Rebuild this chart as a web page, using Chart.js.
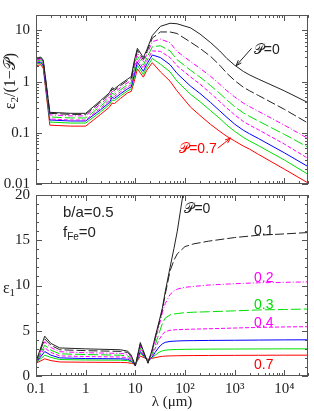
<!DOCTYPE html>
<html>
<head>
<meta charset="utf-8">
<script src="https://cdn.jsdelivr.net/npm/chart.js@4/dist/chart.umd.min.js"></script>
<style>
  html, body { margin: 0; padding: 0; background: #fff; overflow: hidden; }
  #wrap { position: relative; width: 314px; height: 411px; }
  canvas { position: absolute; left: 0; top: 0; }
</style>
</head>
<body>
<div id="wrap">
  <canvas id="topPanel" width="314" height="411"></canvas>
  <canvas id="botPanel" width="314" height="411"></canvas>
</div>
<script>
// porosity values, one curve each
const porosity = ['0', '0.1', '0.2', '0.3', '0.4', '0.5', '0.6', '0.7'];

// upper panel: eps2/(1-P) against wavelength (micron)
const lamTop = [0.1, 0.125, 0.14, 0.19, 0.5, 1, 2, 3, 3.4, 3.8, 5, 7, 8.3, 9.5, 11, 14.5, 17, 22, 32, 50, 69, 130, 200, 330, 500, 700, 1000, 1500, 2000, 3000, 10000, 30000];
const e2P0 = [2.88, 3.02, 2.63, 0.251, 0.240, 0.240, 0.427, 0.603, 0.759, 0.724, 0.891, 1.12, 1.26, 2.51, 4.47, 2.95, 4.17, 7.94, 12.0, 13.8, 13.5, 11.2, 8.51, 5.75, 3.98, 2.82, 2.09, 1.58, 1.35, 1.12, 0.661, 0.389];
const e2P1 = [2.75, 2.88, 2.51, 0.240, 0.229, 0.229, 0.398, 0.562, 0.708, 0.676, 0.832, 1.05, 1.15, 2.29, 4.07, 2.69, 3.80, 7.08, 9.33, 9.33, 8.71, 5.89, 4.47, 3.09, 2.09, 1.45, 1.05, 0.776, 0.661, 0.537, 0.288, 0.155];
const e2P2 = [2.63, 2.75, 2.40, 0.224, 0.214, 0.214, 0.363, 0.513, 0.646, 0.617, 0.759, 0.955, 1.05, 2.04, 3.63, 2.40, 3.39, 6.03, 6.76, 5.75, 3.89, 2.46, 1.82, 1.26, 0.891, 0.661, 0.501, 0.380, 0.324, 0.263, 0.141, 0.0776];
const e2P3 = [2.51, 2.63, 2.29, 0.204, 0.195, 0.195, 0.331, 0.468, 0.589, 0.562, 0.692, 0.871, 0.955, 1.78, 3.16, 2.09, 2.88, 4.79, 5.01, 3.98, 2.69, 1.66, 1.23, 0.832, 0.589, 0.437, 0.324, 0.245, 0.209, 0.170, 0.0933, 0.0525];
const e2P4 = [2.40, 2.51, 2.19, 0.186, 0.178, 0.178, 0.302, 0.427, 0.537, 0.513, 0.631, 0.794, 0.871, 1.55, 2.75, 1.82, 2.51, 3.98, 3.89, 2.95, 2.04, 1.23, 0.891, 0.589, 0.407, 0.302, 0.224, 0.166, 0.141, 0.115, 0.0603, 0.0316];
const e2P5 = [2.29, 2.40, 2.09, 0.178, 0.170, 0.170, 0.282, 0.389, 0.490, 0.468, 0.575, 0.724, 0.794, 1.35, 2.40, 1.59, 2.19, 3.31, 2.95, 2.14, 1.45, 0.813, 0.589, 0.389, 0.269, 0.200, 0.148, 0.112, 0.0955, 0.0776, 0.0407, 0.0219];
const e2P6 = [2.19, 2.29, 2.00, 0.162, 0.155, 0.155, 0.257, 0.355, 0.437, 0.427, 0.525, 0.661, 0.724, 1.18, 2.09, 1.38, 1.91, 2.82, 2.19, 1.55, 1.02, 0.562, 0.407, 0.269, 0.191, 0.141, 0.107, 0.0813, 0.0692, 0.0562, 0.0295, 0.0155];
const e2P7 = [2.04, 2.14, 1.82, 0.141, 0.135, 0.135, 0.229, 0.316, 0.380, 0.372, 0.468, 0.603, 0.646, 1.00, 1.78, 1.22, 1.66, 2.34, 1.55, 1.02, 0.661, 0.316, 0.219, 0.145, 0.107, 0.0851, 0.0692, 0.0550, 0.0479, 0.0380, 0.0195, 0.0105];

// lower panel: eps1 against wavelength (micron), P=0 runs off the top
const lamBot = [0.1, 0.15, 0.2, 0.3, 1, 5, 7, 8.3, 10, 12.6, 18, 22, 25, 30, 35, 40, 50, 60, 70, 100, 150, 300, 1000, 3000, 10000, 30000];
const e1P0 = [1.6, 4.4, 3.6, 3.1, 3.0, 2.9, 2.75, 2.3, 1.1, 3.7, 1.4, 3.0, 4.3, 6.0, 7.5, 9.3, 12.0, 14.1, 16.0, 21.5, null, null, null, null, null, null];
const e1P1 = [1.58, 4.1, 3.4, 2.9, 2.8, 2.72, 2.6, 2.2, 1.12, 3.5, 1.45, 2.9, 4.1, 5.8, 7.3, 9.0, 11.6, 12.8, 13.5, 14.3, 14.6, 14.9, 15.3, 15.55, 15.7, 15.85];
const e1P2 = [1.55, 3.8, 3.15, 2.68, 2.57, 2.5, 2.4, 2.05, 1.15, 3.3, 1.5, 2.8, 3.9, 5.5, 7.0, 8.0, 9.0, 9.4, 9.6, 9.8, 9.9, 10.05, 10.2, 10.3, 10.35, 10.4];
const e1P3 = [1.52, 3.4, 2.85, 2.45, 2.37, 2.3, 2.22, 1.9, 1.18, 3.1, 1.55, 2.5, 3.4, 4.7, 5.8, 6.4, 6.75, 6.85, 6.9, 7.0, 7.05, 7.1, 7.2, 7.3, 7.35, 7.4];
const e1P4 = [1.5, 3.1, 2.6, 2.22, 2.15, 2.1, 2.03, 1.8, 1.2, 2.9, 1.6, 2.3, 3.0, 4.0, 4.6, 4.9, 5.05, 5.1, 5.12, 5.15, 5.18, 5.22, 5.3, 5.37, 5.42, 5.45];
const e1P5 = [1.47, 2.7, 2.3, 2.0, 1.93, 1.9, 1.85, 1.65, 1.22, 2.7, 1.65, 2.1, 2.6, 3.2, 3.55, 3.72, 3.82, 3.85, 3.87, 3.9, 3.91, 3.93, 3.95, 3.97, 3.99, 4.0];
const e1P6 = [1.44, 2.3, 2.05, 1.82, 1.77, 1.75, 1.7, 1.55, 1.25, 2.5, 1.75, 2.0, 2.3, 2.62, 2.78, 2.85, 2.9, 2.92, 2.93, 2.95, 2.96, 2.97, 2.98, 2.99, 3.0, 3.0];
const e1P7 = [1.4, 1.9, 1.7, 1.55, 1.52, 1.5, 1.47, 1.4, 1.3, 2.2, 1.85, 1.95, 2.03, 2.12, 2.17, 2.2, 2.22, 2.23, 2.24, 2.25, 2.26, 2.27, 2.28, 2.29, 2.3, 2.3];

// tick labels
const topYTicks = ['0.01', '0.1', '1', '10'];
const botYTicks = ['0', '5', '10', '15', '20'];
const xTicks = ['0.1', '1', '10', '10²', '10³', '10⁴'];

const lineColors = ['#222', '#222', '#ff00ff', '#00e000', '#ff00ff', '#0000ff', '#00e000', '#ff0000'];
const lineDashes = [[], [9, 3], [5, 2, 1, 2], [10, 3], [4, 2], [], [], []];

const serif = "'Liberation Serif', 'DejaVu Serif', serif";
const sans = "'Liberation Sans', 'DejaVu Sans', sans-serif";

const makeSets = (lam, series) => series.map((vals, i) => ({
  label: 'P=' + porosity[i],
  data: lam.map((x, j) => ({x: x, y: vals[j]})).filter((p) => p.y !== null),
  borderColor: lineColors[i],
  borderDash: lineDashes[i],
  borderWidth: 1,
  pointRadius: 0,
  fill: false,
  tension: 0
}));

// label only the decades
const decadeIndex = (v) => {
  const e = Math.log10(v);
  return Math.abs(e - Math.round(e)) < 1e-6 ? Math.round(e) : null;
};

// box plus inward tick marks on all four sides
const frameTicks = {
  id: 'frameTicks',
  afterDatasetsDraw(chart) {
    const {ctx, chartArea: a, scales: {x, y}} = chart;
    ctx.save();
    ctx.strokeStyle = '#555';
    ctx.lineWidth = 1;
    ctx.strokeRect(a.left + 0.5, a.top + 0.5, a.right - a.left - 1, a.bottom - a.top - 1);
    ctx.beginPath();
    for (let d = -2; d <= 4; d++) {
      for (let m = 1; m <= 9; m++) {
        const v = m * Math.pow(10, d);
        const len = m == 1 ? 6 : 3;
        if (v >= x.min && v <= x.max) {
          const px = Math.round(x.getPixelForValue(v)) + 0.5;
          ctx.moveTo(px, a.bottom); ctx.lineTo(px, a.bottom - len);
          ctx.moveTo(px, a.top); ctx.lineTo(px, a.top + len);
        }
        if (y.type == 'logarithmic' && v >= y.min && v <= y.max) {
          const py = Math.round(y.getPixelForValue(v)) + 0.5;
          ctx.moveTo(a.left, py); ctx.lineTo(a.left + len, py);
          ctx.moveTo(a.right, py); ctx.lineTo(a.right - len, py);
        }
      }
    }
    if (y.type == 'linear') {
      for (let v = y.min; v <= y.max; v++) {
        const len = v % 5 == 0 ? 6 : 3;
        const py = Math.round(y.getPixelForValue(v)) + 0.5;
        ctx.moveTo(a.left, py); ctx.lineTo(a.left + len, py);
        ctx.moveTo(a.right, py); ctx.lineTo(a.right - len, py);
      }
    }
    ctx.stroke();
    ctx.restore();
  }
};

// draws a run of text pieces (for sub/superscripts)
const drawParts = (ctx, parts, x, y, align) => {
  let w = 0;
  for (const p of parts) {
    ctx.font = p.font;
    p.w = ctx.measureText(p.t).width;
    w += p.w;
  }
  let cx = align == 'center' ? x - w / 2 : x;
  ctx.textAlign = 'left';
  ctx.textBaseline = 'middle';
  for (const p of parts) {
    ctx.font = p.font;
    ctx.fillText(p.t, cx, y + (p.dy || 0));
    cx += p.w;
  }
};

const arrow = (ctx, x0, y0, x1, y1, color) => {
  const ang = Math.atan2(y1 - y0, x1 - x0);
  ctx.save();
  ctx.strokeStyle = color;
  ctx.lineWidth = 1;
  ctx.beginPath();
  ctx.moveTo(x0, y0); ctx.lineTo(x1, y1);
  ctx.moveTo(x1 - 6 * Math.cos(ang - 0.35), y1 - 6 * Math.sin(ang - 0.35));
  ctx.lineTo(x1, y1);
  ctx.lineTo(x1 - 6 * Math.cos(ang + 0.35), y1 - 6 * Math.sin(ang + 0.35));
  ctx.stroke();
  ctx.restore();
};

const P = '\u{1D4AB}';

const topNotes = {
  id: 'topNotes',
  afterDraw(chart) {
    const {ctx, scales: {x, y}} = chart;
    ctx.save();
    ctx.fillStyle = '#222';
    drawParts(ctx, [{t: P + '=0', font: '14px ' + sans}], x.getPixelForValue(4430), y.getPixelForValue(4.1), 'center');
    arrow(ctx, x.getPixelForValue(2190), y.getPixelForValue(4.47), x.getPixelForValue(1070), y.getPixelForValue(2.04), '#222');
    ctx.fillStyle = '#ff0000';
    drawParts(ctx, [{t: P + '=0.7', font: '14px ' + sans}], x.getPixelForValue(183), y.getPixelForValue(0.048), 'center');
    arrow(ctx, x.getPixelForValue(457), y.getPixelForValue(0.05), x.getPixelForValue(832), y.getPixelForValue(0.079), '#ff0000');
    // vertical axis title
    ctx.fillStyle = '#222';
    ctx.translate(11, 81);
    ctx.rotate(-Math.PI / 2);
    drawParts(ctx, [
      {t: 'ε', font: '16px ' + serif},
      {t: '2', font: '11px ' + serif, dy: 4},
      {t: '/(1−' + P + ')', font: '16px ' + serif}
    ], 0, 0, 'center');
    ctx.restore();
  }
};

const botNotes = {
  id: 'botNotes',
  afterDraw(chart) {
    const {ctx, scales: {x, y}} = chart;
    ctx.save();
    ctx.fillStyle = '#222';
    drawParts(ctx, [{t: 'b/a=0.5', font: '15px ' + sans}], x.getPixelForValue(0.35), y.getPixelForValue(18.0), 'left');
    drawParts(ctx, [
      {t: 'f', font: '15px ' + sans},
      {t: 'Fe', font: '10px ' + sans, dy: 4},
      {t: '=0', font: '15px ' + sans}
    ], x.getPixelForValue(0.35), y.getPixelForValue(15.8), 'left');
    drawParts(ctx, [{t: P + '=0', font: '14px ' + sans}], x.getPixelForValue(178), y.getPixelForValue(18.45), 'center');
    const labs = [['0.1', 16.0, '#222'], ['0.2', 10.8, '#ff00ff'], ['0.3', 7.85, '#00e000'], ['0.4', 5.86, '#ff00ff'], ['0.7', 1.2, '#ff0000']];
    for (const l of labs) {
      ctx.fillStyle = l[2];
      drawParts(ctx, [{t: l[0], font: '14px ' + sans}], x.getPixelForValue(3860), y.getPixelForValue(l[1]), 'center');
    }
    ctx.fillStyle = '#222';
    drawParts(ctx, [
      {t: 'ε', font: '16px ' + serif},
      {t: '1', font: '11px ' + serif, dy: 4}
    ], 9, 289, 'center');
    ctx.restore();
  }
};

const tickFont = {family: serif, size: 15};

new Chart(document.getElementById('topPanel'), {
  type: 'line',
  data: {datasets: makeSets(lamTop, [e2P0, e2P1, e2P2, e2P3, e2P4, e2P5, e2P6, e2P7])},
  options: {
    responsive: false,
    animation: false,
    layout: {padding: {left: 0, right: 6, top: 5, bottom: 227}},
    plugins: {legend: {display: false}, tooltip: {enabled: false}},
    scales: {
      x: {
        type: 'logarithmic', min: 0.1, max: 30000,
        ticks: {display: false},
        grid: {display: false, drawTicks: false},
        border: {display: false},
        afterFit: (s) => { s.height = 0; }
      },
      y: {
        type: 'logarithmic', min: 0.01, max: 20,
        ticks: {
          autoSkip: false, padding: 6, color: '#222', font: tickFont,
          callback: (v) => {
            const e = decadeIndex(v);
            return e === null ? '' : topYTicks[e + 2];
          }
        },
        grid: {display: false, drawTicks: false},
        border: {display: false},
        afterFit: (s) => { s.width = 36; }
      }
    }
  },
  plugins: [frameTicks, topNotes]
});

new Chart(document.getElementById('botPanel'), {
  type: 'line',
  data: {datasets: makeSets(lamBot, [e1P0, e1P1, e1P2, e1P3, e1P4, e1P5, e1P6, e1P7])},
  options: {
    responsive: false,
    animation: false,
    layout: {padding: {left: 0, right: 6, top: 195, bottom: 0}},
    plugins: {legend: {display: false}, tooltip: {enabled: false}},
    scales: {
      x: {
        type: 'logarithmic', min: 0.1, max: 30000,
        ticks: {
          autoSkip: false, maxRotation: 0, padding: 4, color: '#222', font: tickFont,
          callback: (v) => {
            const e = decadeIndex(v);
            return e === null ? '' : xTicks[e + 1];
          }
        },
        title: {display: true, text: 'λ (μm)', color: '#222', font: tickFont, padding: 0},
        grid: {display: false, drawTicks: false},
        border: {display: false},
        afterFit: (s) => { s.height = 35; }
      },
      y: {
        type: 'linear', min: 0, max: 20,
        ticks: {
          stepSize: 5, autoSkip: false, padding: 6, color: '#222', font: tickFont,
          callback: (v) => botYTicks[v / 5]
        },
        grid: {display: false, drawTicks: false},
        border: {display: false},
        afterFit: (s) => { s.width = 36; }
      }
    }
  },
  plugins: [frameTicks, botNotes]
});
</script>
</body>
</html>
